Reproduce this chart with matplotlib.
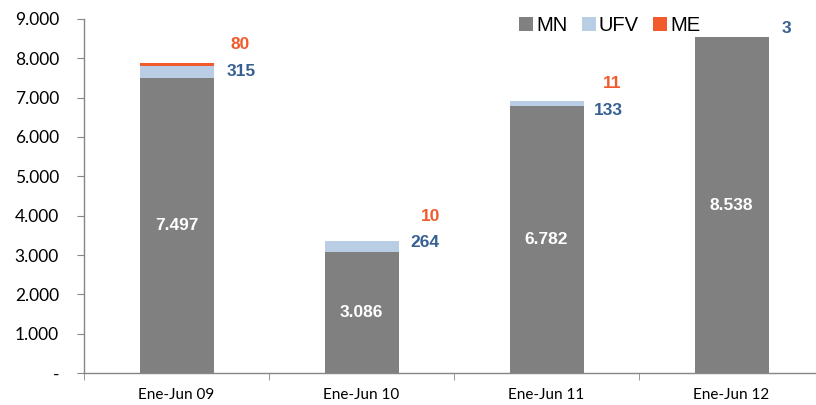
import matplotlib
matplotlib.use("Agg")
import matplotlib.pyplot as plt
from matplotlib.ticker import FixedLocator, FuncFormatter

categories = ["Ene-Jun 09", "Ene-Jun 10", "Ene-Jun 11", "Ene-Jun 12"]
mn = [7497, 3086, 6782, 8538]
ufv = [315, 264, 133, 3]
me = [80, 10, 11, 0]

c_mn = "#808080"
c_ufv = "#B9CDE5"
c_me = "#F15A2B"
c_ufv_txt = "#376092"
c_me_txt = "#F15A2B"

fig = plt.figure(figsize=(8.16, 4.05), dpi=100)
ax = fig.add_axes([84/816, 1 - 373/405, (816 - 84)/816, (373 - 19)/405])

x = list(range(len(categories)))
w = 0.4
ax.bar(x, mn, width=w, color=c_mn, label="MN", zorder=2)
ax.bar(x, ufv, width=w, bottom=mn, color=c_ufv, label="UFV", zorder=2)
bottom2 = [a + b for a, b in zip(mn, ufv)]
ax.bar(x, me, width=w, bottom=bottom2, color=c_me, label="ME", zorder=2)

ax.set_xlim(-0.5, 3.5 - 8/185)
ax.set_ylim(0, 9000)

# inside MN labels
for i, v in enumerate(mn):
    ax.text(i, v / 2, f"{v:,}".replace(",", "."), ha="center", va="center",
            color="white", fontsize=12.5, fontweight="bold", family="Liberation Sans")

# UFV labels (offsets in data units)
ufv_dx = [0.35, 0.34, 0.335, 0.297]
ufv_dy = [12, 100, -187, 207]
for i, v in enumerate(ufv):
    ax.text(i + ufv_dx[i], mn[i] + v / 2 + ufv_dy[i], str(v), ha="center", va="center",
            color=c_ufv_txt, fontsize=12.5, fontweight="bold", family="Liberation Sans")

me_dx = [0.346, 0.373, 0.357]
me_dy = [528, 629, 446]
for i, v in enumerate(me):
    if v:
        ax.text(i + me_dx[i], bottom2[i] + me_dy[i], str(v), ha="center", va="center",
                color=c_me_txt, fontsize=12.5, fontweight="bold", family="Liberation Sans")

# axes styling
for s in ["top", "right"]:
    ax.spines[s].set_visible(False)
for s in ["left", "bottom"]:
    ax.spines[s].set_color("#868686")
    ax.spines[s].set_linewidth(1)

ax.yaxis.set_major_locator(FixedLocator(range(0, 9001, 1000)))
ax.yaxis.set_major_formatter(FuncFormatter(lambda v, p: "-" if v == 0 else f"{int(v):,}".replace(",", ".")))
ax.tick_params(axis="y", direction="out", length=5, color="#868686", pad=13, labelsize=12.5)
for lbl in ax.get_yticklabels():
    lbl.set_family("Lato")

ax.set_xticks(x)
ax.set_xticklabels(categories, family="Lato", fontsize=11)
ax.tick_params(axis="x", which="major", length=0, pad=11)
ax.set_xticks([-0.5, 0.5, 1.5, 2.5], minor=True)
ax.tick_params(axis="x", which="minor", direction="out", length=5, color="#868686")

leg = ax.legend(loc="upper left", bbox_to_anchor=(0.57, 1.06), ncol=3, frameon=False,
                prop={"family": "Liberation Sans", "size": 14.5}, handlelength=0.7,
                handleheight=0.7, handletextpad=0.15, columnspacing=0.7)

fig.savefig("out.png", dpi=100)
